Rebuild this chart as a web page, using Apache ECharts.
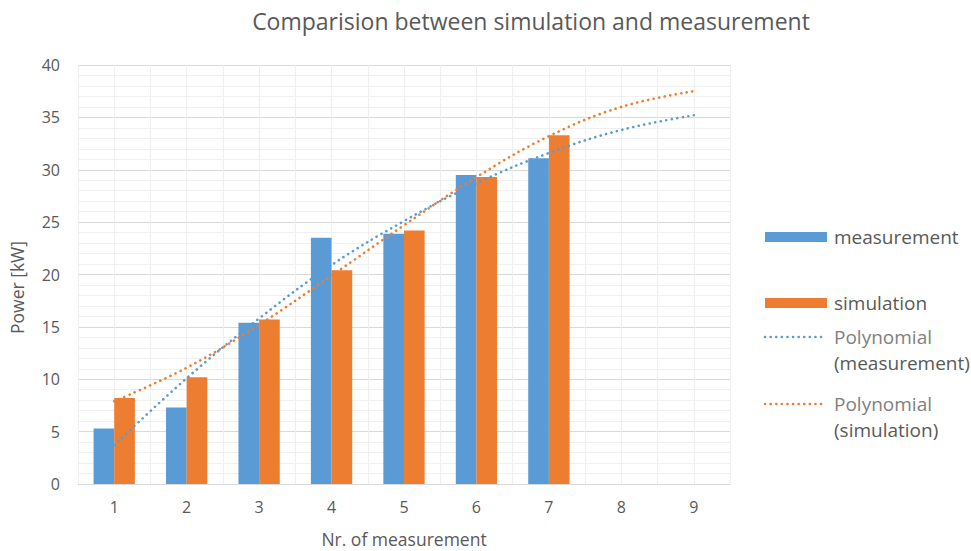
<!DOCTYPE html>
<html>
<head>
<meta charset="utf-8">
<script src="https://cdn.jsdelivr.net/npm/echarts@6/dist/echarts.min.js"></script>
<style>
html,body{margin:0;padding:0;background:#fff;}
#chart{width:971px;height:551px;}
</style>
</head>
<body>
<div id="chart"></div>
<script>
var categories = ['1', '2', '3', '4', '5', '6', '7', '8', '9'];
var measurement = [5.3, 7.3, 15.4, 23.5, 23.9, 29.5, 31.1, null, null];
var simulation = [8.2, 10.2, 15.7, 20.4, 24.2, 29.3, 33.3, null, null];
var trendMeasurement = [3.7, 10.1, 15.8, 20.9, 25.1, 28.7, 31.6, 33.8, 35.2];
var trendSimulation = [7.9, 11.1, 15.2, 19.9, 24.7, 29.3, 33.2, 36.0, 37.5];
var yTicks = [0, 40, 5];

var FONT = 'Open Sans';
var DARK = '#595959';
var LIGHT = '#808080';
var BLUE = '#5b9bd5';
var ORANGE = '#ed7d31';

var chart = echarts.init(document.getElementById('chart'), null, {renderer: 'svg'});

var legendX = 765, textX = 834;
var LF = '19px "Open Sans"';
var graphics = [
  {type: 'rect', shape: {x: legendX, y: 232, width: 62, height: 10}, style: {fill: BLUE}},
  {type: 'text', x: textX, y: 237, style: {text: 'measurement', fill: DARK, font: LF, verticalAlign: 'middle'}},
  {type: 'rect', shape: {x: legendX, y: 298, width: 62, height: 10}, style: {fill: ORANGE}},
  {type: 'text', x: textX, y: 303, style: {text: 'simulation', fill: DARK, font: LF, verticalAlign: 'middle'}},
  {type: 'line', shape: {x1: legendX, y1: 337, x2: 822, y2: 337}, style: {stroke: BLUE, lineWidth: 2.6, lineDash: [0.1, 5.5], lineCap: 'round'}},
  {type: 'text', x: textX, y: 337, style: {text: 'Polynomial', fill: LIGHT, font: LF, verticalAlign: 'middle'}},
  {type: 'text', x: textX, y: 363, style: {text: '(measurement)', fill: DARK, font: LF, verticalAlign: 'middle'}},
  {type: 'line', shape: {x1: legendX, y1: 404, x2: 822, y2: 404}, style: {stroke: ORANGE, lineWidth: 2.6, lineDash: [0.1, 5.5], lineCap: 'round'}},
  {type: 'text', x: textX, y: 404, style: {text: 'Polynomial', fill: LIGHT, font: LF, verticalAlign: 'middle'}},
  {type: 'text', x: textX, y: 430, style: {text: '(simulation)', fill: DARK, font: LF, verticalAlign: 'middle'}}
];

var option = {
  animation: false,
  backgroundColor: '#ffffff',
  textStyle: {fontFamily: FONT},
  title: {
    text: 'Comparision between simulation and measurement',
    left: 526, top: 4, textAlign: 'center',
    textStyle: {fontFamily: FONT, fontSize: 23, fontWeight: 'normal', color: DARK}
  },
  grid: {left: 78, right: 241, top: 65, bottom: 67, containLabel: false, outerBoundsMode: 'none'},
  xAxis: [
    {
      type: 'category', data: categories, boundaryGap: true,
      name: 'Nr. of measurement', nameLocation: 'middle', nameGap: 46,
      nameTextStyle: {fontFamily: FONT, fontSize: 17.5, color: DARK},
      axisLine: {lineStyle: {color: '#d9d9d9', width: 1}},
      axisTick: {show: false},
      axisLabel: {fontFamily: FONT, fontSize: 16, color: DARK, margin: 15},
      splitLine: {show: false}
    },
    {
      type: 'value', min: 0.5, max: 9.5, interval: 0.5, position: 'bottom',
      axisLine: {show: false}, axisTick: {show: false}, axisLabel: {show: false},
      splitLine: {show: true, lineStyle: {color: '#efefef', width: 1}}
    }
  ],
  yAxis: {
    type: 'value', min: yTicks[0], max: yTicks[1], interval: yTicks[2],
    name: 'Power [kW]', nameLocation: 'middle', nameGap: 52,
    nameTextStyle: {fontFamily: FONT, fontSize: 17.5, color: DARK, padding: [0, 26, 0, 0]},
    axisLine: {show: false}, axisTick: {show: false},
    axisLabel: {fontFamily: FONT, fontSize: 16, color: DARK, margin: 18},
    splitLine: {lineStyle: {color: '#d9d9d9', width: 1}},
    minorTick: {show: false, splitNumber: 5},
    minorSplitLine: {show: true, lineStyle: {color: '#f0f0f0', width: 1}}
  },
  series: [
    {name: 'measurement', type: 'bar', data: measurement, barGap: '0%', barCategoryGap: '43%',
     itemStyle: {color: BLUE}, z: 2},
    {name: 'simulation', type: 'bar', data: simulation,
     itemStyle: {color: ORANGE}, z: 2},
    {name: 'Polynomial (measurement)', type: 'line', data: trendMeasurement, smooth: 0.4,
     symbol: 'none', z: 5,
     lineStyle: {color: BLUE, width: 2.6, type: [0.1, 5.5], cap: 'round'}},
    {name: 'Polynomial (simulation)', type: 'line', data: trendSimulation, smooth: 0.4,
     symbol: 'none', z: 5,
     lineStyle: {color: ORANGE, width: 2.6, type: [0.1, 5.5], cap: 'round'}}
  ],
  graphic: graphics
};
chart.setOption(option);
</script>
</body>
</html>
